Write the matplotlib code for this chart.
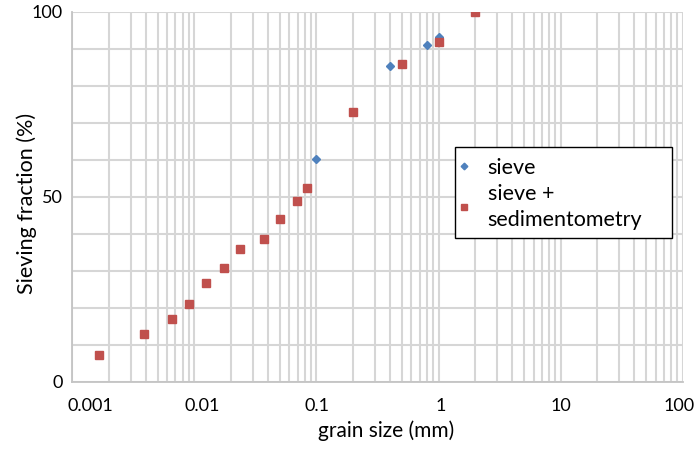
import numpy as np
import matplotlib
matplotlib.use("Agg")
import matplotlib.pyplot as plt
import matplotlib.transforms as mtransforms
from matplotlib.patches import Rectangle
from matplotlib.ticker import LogLocator, FixedLocator, NullFormatter

plt.rcParams["font.family"] = ["Lato", "DejaVu Sans"]

# sieve only
sieve_size = [0.1, 0.4, 0.8, 1.0, 2.0]
sieve_frac = [60.2, 85.3, 91.0, 93.2, 100.0]

# sieve + sedimentometry
sed_size = [0.00166, 0.00386, 0.00656, 0.0091, 0.0124, 0.0175, 0.0238,
            0.0372, 0.0502, 0.0692, 0.0832, 0.2, 0.5, 1.0, 2.0]
sed_frac = [7.1, 12.9, 16.9, 20.9, 26.8, 30.8, 35.8,
            38.7, 43.9, 48.9, 52.4, 72.8, 85.9, 91.8, 100.0]

x_ticks = [0.001, 0.01, 0.1, 1, 10, 100]
x_labels = ["0.001", "0.01", "0.1", "1", "10", "100"]
y_ticks = [0, 50, 100]

fig = plt.figure(figsize=(6.99, 4.51), dpi=100)
ax = fig.add_axes([0.1034, 0.1537, 0.8733, 0.8203])

ax.set_xscale("log")
ax.set_xlim(0.001, 100)
ax.set_ylim(0, 100)

grid_c = "#d6d6d6"
ax.xaxis.set_major_locator(FixedLocator(x_ticks))
ax.xaxis.set_minor_locator(LogLocator(base=10, subs=np.arange(2, 10), numticks=20))
ax.xaxis.set_minor_formatter(NullFormatter())
ax.set_xticks(x_ticks)
ax.set_xticklabels(x_labels)
ax.set_yticks(y_ticks)
ax.set_yticks(np.arange(0, 101, 10), minor=True)
ax.grid(True, which="both", color=grid_c, linewidth=1.5)
ax.set_axisbelow(True)

ax.tick_params(which="both", length=0, colors="black")
ax.tick_params(axis="x", labelsize=13, pad=12)
ax.tick_params(axis="y", labelsize=13, pad=7)
for s in ["top", "right"]:
    ax.spines[s].set_visible(False)
for s in ["left", "bottom"]:
    ax.spines[s].set_color("#c4c4c4")
    ax.spines[s].set_linewidth(1.3)

# the first two x labels sit a little right of their gridline in the original
shifts = [18, 8, 1, 2, 0, -4]
for lab, dx in zip(ax.get_xticklabels(), shifts):
    lab.set_transform(lab.get_transform() +
                      mtransforms.ScaledTranslation(dx / 100, 0, fig.dpi_scale_trans))

ax.plot(sieve_size, sieve_frac, linestyle="none", marker="D", markersize=4.5,
        color="#4F81BD", label="sieve", zorder=3)
ax.plot(sed_size, sed_frac, linestyle="none", marker="s", markersize=6,
        color="#C0504D", label="sieve +\nsedimentometry", zorder=4)

ax.set_xlabel("grain size (mm)", fontsize=15)
ax.xaxis.set_label_coords(0.514, -0.104)
ax.set_ylabel("Sieving fraction (%)", fontsize=15.5)
ax.yaxis.set_label_coords(-0.058, 0.483)

# legend box drawn separately so the padding matches the original
box = Rectangle((0.6277, 0.388), 0.3542, 0.246, transform=ax.transAxes,
                facecolor="white", edgecolor="black", linewidth=1.0, zorder=5,
                clip_on=False)
ax.add_patch(box)
leg = ax.legend(loc="upper left", bbox_to_anchor=(0.6277, 0.605), borderaxespad=0,
                frameon=False, fontsize=15.5, borderpad=0, markerscale=0.75,
                handlelength=0.84, handletextpad=0.65, labelspacing=0.27)
leg.set_zorder(6)
for t in leg.get_texts():
    t.set_linespacing(1.38)

fig.savefig("out.png", dpi=100)
